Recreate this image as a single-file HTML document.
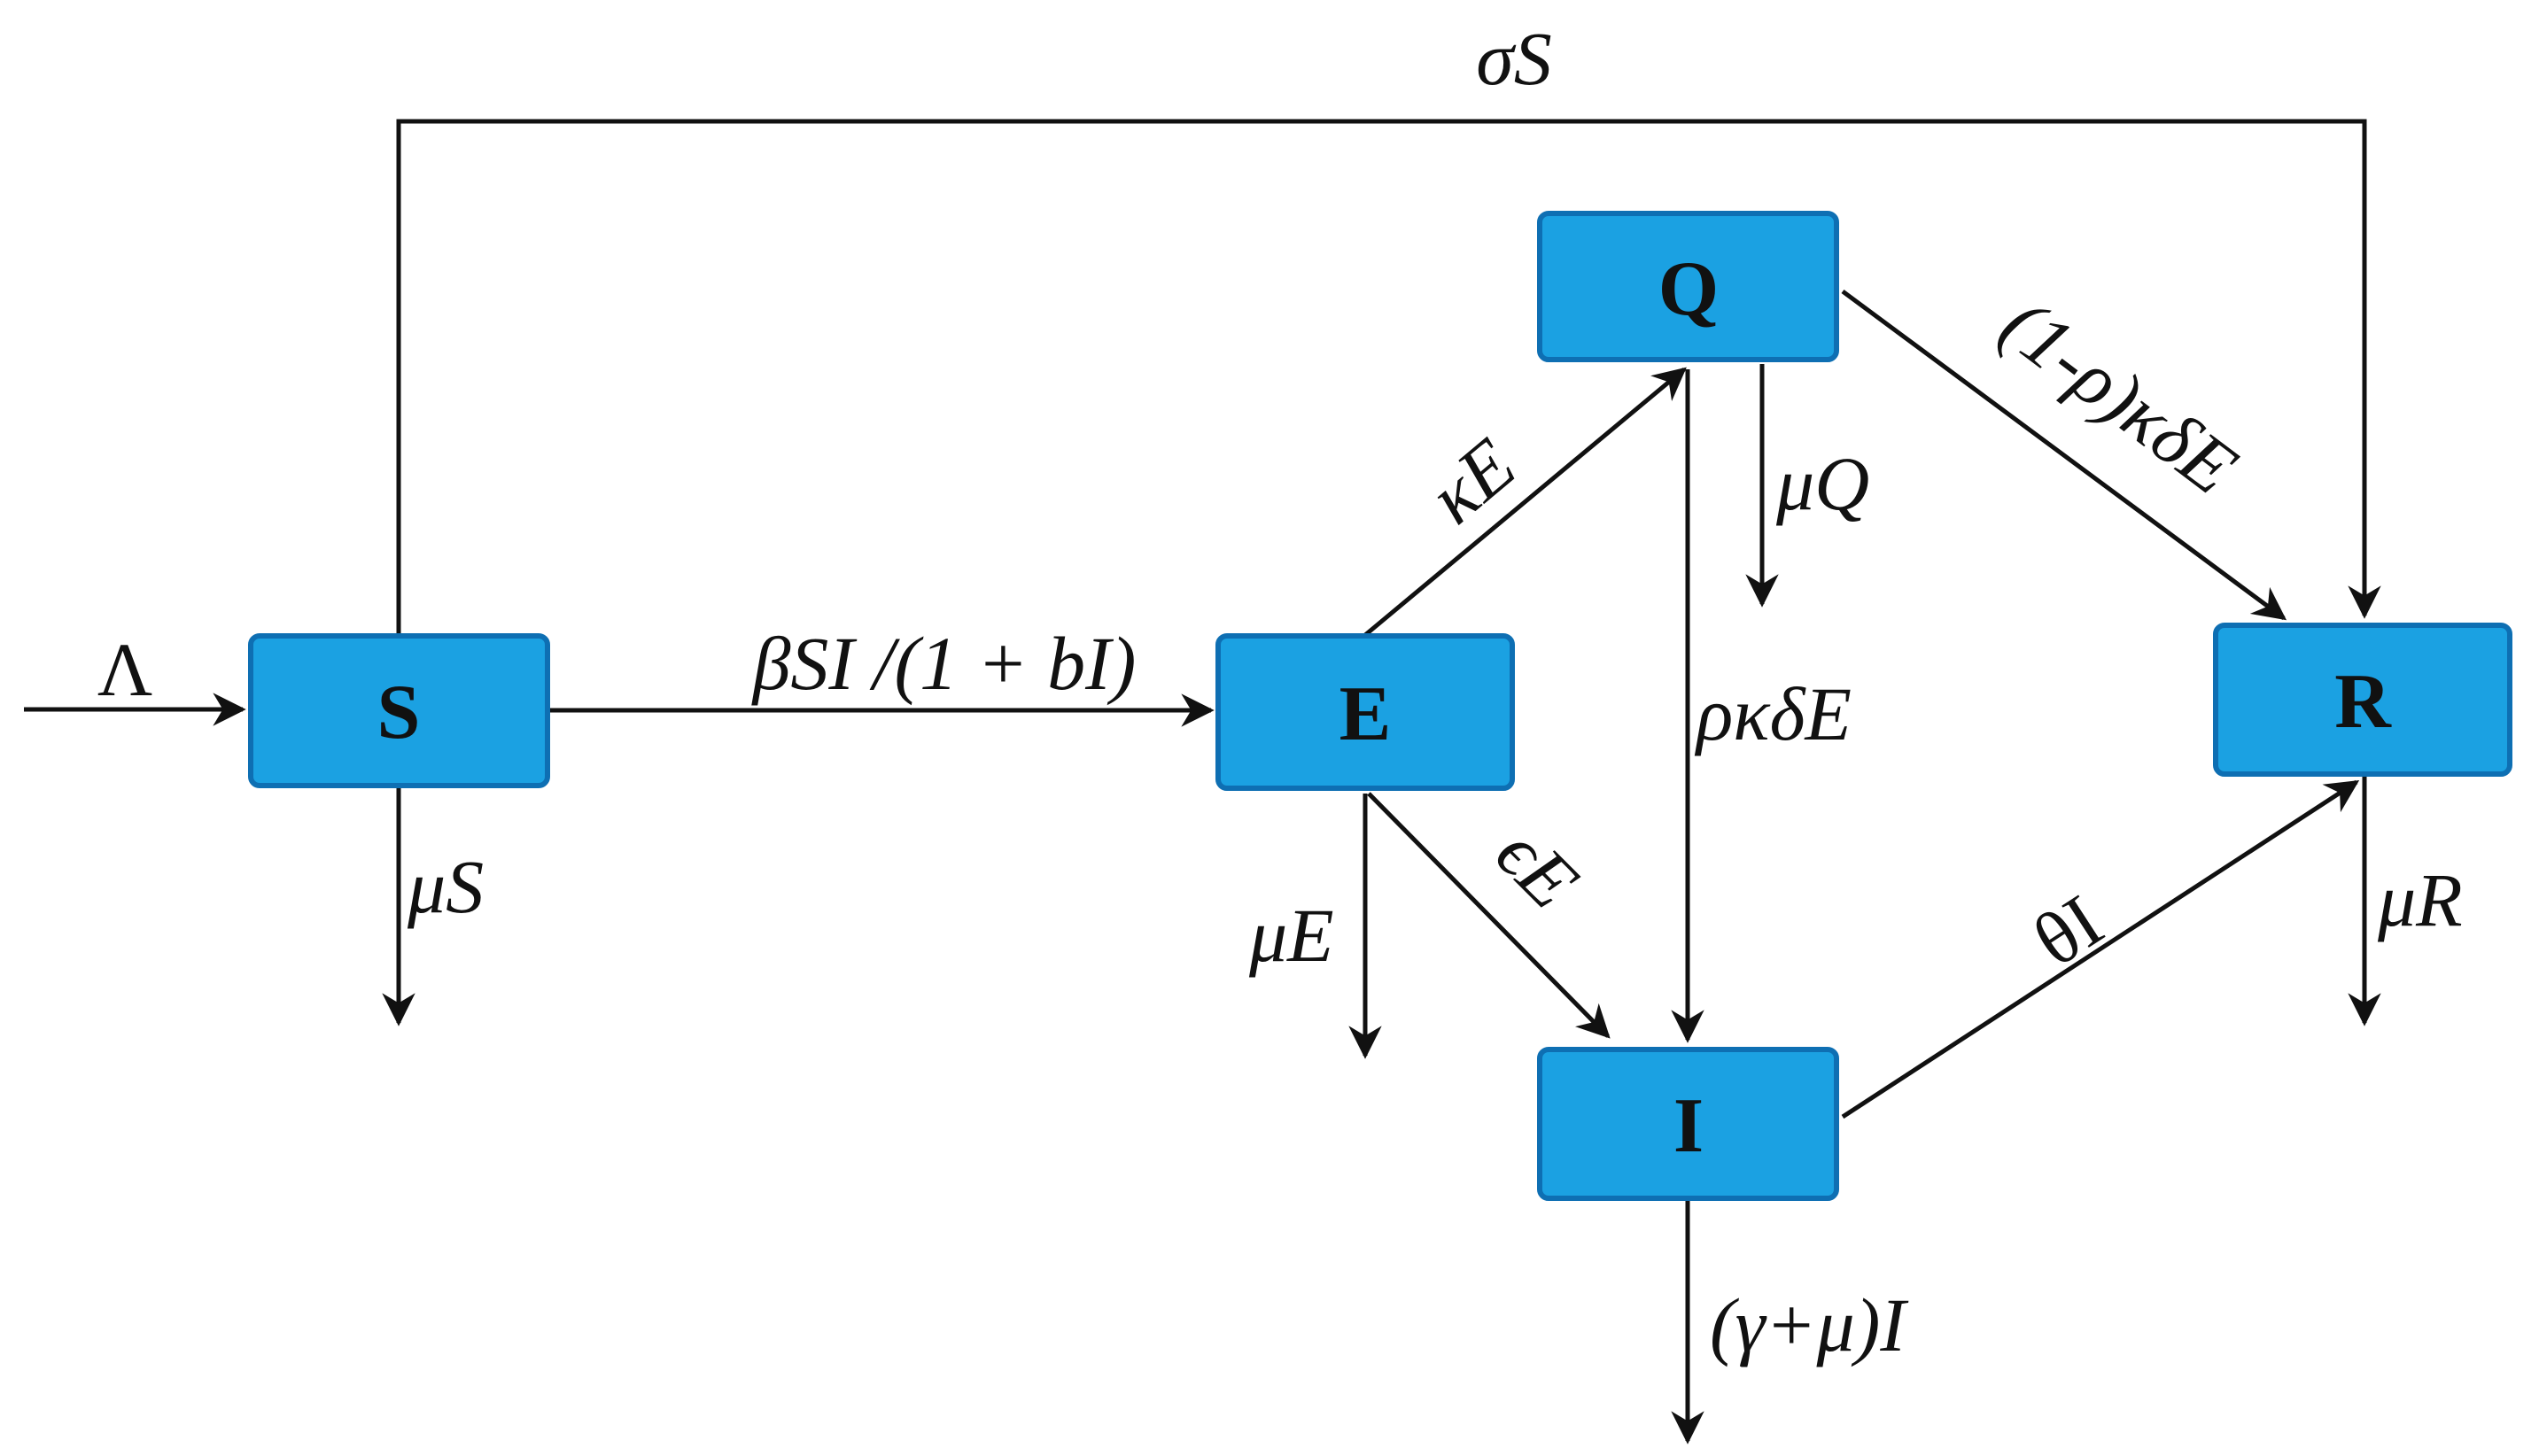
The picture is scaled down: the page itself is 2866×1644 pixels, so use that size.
<!DOCTYPE html>
<html><head><meta charset="utf-8"><style>
html,body{margin:0;padding:0;background:#fff}
svg{display:block}
text{font-family:"Liberation Serif","DejaVu Serif",serif;fill:#111}
.l{font-style:italic;font-size:86px}
.b{font-weight:bold;font-size:88px}
</style></head><body>
<svg width="2866" height="1644" viewBox="0 0 2866 1644" xmlns="http://www.w3.org/2000/svg">
<defs>
<marker id="h" viewBox="0 0 10 10" refX="9" refY="5" markerWidth="7.5" markerHeight="7.5" orient="auto">
<path d="M0,0 L10,5 L0,10 L3,5 Z" fill="#111"/>
</marker>
</defs>
<g stroke="#111" stroke-width="5" fill="none" marker-end="url(#h)">
<polyline points="450,718 450,137 2669,137 2669,695"/>
<line x1="27" y1="801" x2="274" y2="801"/>
<line x1="618" y1="802" x2="1367" y2="802"/>
<line x1="450" y1="887" x2="450" y2="1155"/>
<line x1="1541" y1="717" x2="1901" y2="417"/>
<line x1="1989" y1="411" x2="1989" y2="682"/>
<line x1="1905" y1="417" x2="1905" y2="1174"/>
<line x1="2080" y1="329" x2="2578" y2="698"/>
<line x1="1545" y1="896" x2="1815" y2="1170"/>
<line x1="1541" y1="896" x2="1541" y2="1192"/>
<line x1="2080" y1="1261" x2="2660" y2="883"/>
<line x1="2669" y1="877" x2="2669" y2="1155"/>
<line x1="1905" y1="1356" x2="1905" y2="1627"/>
</g>
<g fill="#1ba1e2" stroke="#0e6fb3" stroke-width="6">
<rect x="283" y="718" width="335" height="169" rx="10"/>
<rect x="1375" y="718" width="332" height="172" rx="10"/>
<rect x="1738" y="241" width="335" height="165" rx="10"/>
<rect x="2501" y="706" width="332" height="168" rx="10"/>
<rect x="1738" y="1185" width="335" height="168" rx="10"/>
</g>
<g class="b" text-anchor="middle">
<text x="450" y="833">S</text>
<text x="1541" y="835">E</text>
<text x="1906" y="355">Q</text>
<text x="2667" y="821">R</text>
<text x="1906" y="1300">I</text>
</g>
<g class="l">
<text x="1709" y="95" text-anchor="middle">σS</text>
<text x="141" y="785" text-anchor="middle" style="font-style:normal">Λ</text>
<text x="1066" y="778" text-anchor="middle">βSI /(1 + bI)</text>
<text x="460" y="1030">μS</text>
<text x="2005" y="575">μQ</text>
<text x="1915" y="835">ρκδE</text>
<text x="1410" y="1085">μE</text>
<text x="2684" y="1045">μR</text>
<text x="1930" y="1525">(γ+μ)I</text>
<text transform="translate(1680,565) rotate(-40)" text-anchor="middle">κE</text>
<text transform="translate(2375,470) rotate(37)" text-anchor="middle">(1-ρ)κδE</text>
<text transform="translate(1715,1000) rotate(45)" text-anchor="middle">ϵE</text>
<text transform="translate(2350,1075) rotate(-33)" text-anchor="middle" style="font-style:normal">θI</text>
</g>
</svg>
</body></html>
